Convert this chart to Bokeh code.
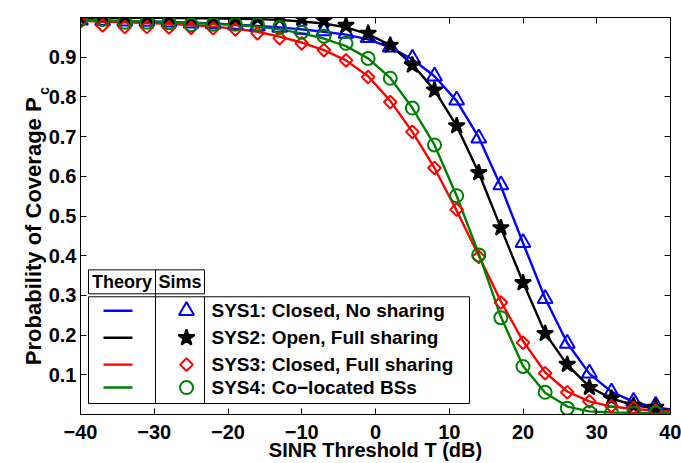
import math
from bokeh.plotting import figure
from bokeh.models import Range1d, FixedTicker, LinearAxis
from bokeh.core.properties import value
from bokeh.embed import file_html
from bokeh.resources import INLINE

FONT = "Liberation Sans"

# ---------------- data ----------------
snr_sim = [-40, -37, -34, -31, -28, -25, -22, -19, -16, -13, -10, -7, -4, -1,
           2, 5, 8, 11, 14, 17, 20, 23, 26, 29, 32, 35, 38]
snr_theory = [-40, -37, -34, -31, -28, -25, -22, -19, -16, -13, -10, -7, -4, -1,
              2, 5, 8, 11, 14, 17, 20, 23, 26, 29, 32, 35, 38, 40]

sys1_theory = [0.993, 0.992, 0.991, 0.990, 0.989, 0.987, 0.985, 0.982, 0.979, 0.975,
               0.970, 0.964, 0.957, 0.945, 0.925, 0.895, 0.852, 0.790, 0.698, 0.575,
               0.432, 0.293, 0.180, 0.103, 0.057, 0.032, 0.018, 0.013]
sys2_theory = [0.999, 0.999, 0.999, 0.999, 0.999, 0.998, 0.998, 0.997, 0.996, 0.994,
               0.990, 0.985, 0.975, 0.958, 0.930, 0.882, 0.817, 0.727, 0.609, 0.470,
               0.333, 0.205, 0.125, 0.070, 0.040, 0.024, 0.015, 0.011]
sys3_theory = [0.992, 0.990, 0.988, 0.986, 0.984, 0.981, 0.977, 0.972, 0.964, 0.952,
               0.937, 0.918, 0.892, 0.852, 0.790, 0.712, 0.621, 0.514, 0.400, 0.285,
               0.185, 0.106, 0.058, 0.033, 0.020, 0.014, 0.010, 0.008]
sys4_theory = [0.993, 0.992, 0.991, 0.990, 0.988, 0.986, 0.984, 0.981, 0.977, 0.970,
               0.960, 0.947, 0.928, 0.897, 0.848, 0.772, 0.679, 0.551, 0.405, 0.246,
               0.122, 0.055, 0.020, 0.008, 0.005, 0.004, 0.004, 0.004]

sys1_sim = [0.993, 0.992, 0.991, 0.990, 0.988, 0.986, 0.984, 0.981, 0.978, 0.975,
            0.970, 0.966, 0.960, 0.949, 0.925, 0.897, 0.852, 0.792, 0.696, 0.578,
            0.433, 0.292, 0.179, 0.104, 0.056, 0.033, 0.023]
sys2_sim = [1.000, 1.000, 1.000, 1.000, 1.000, 0.999, 0.999, 0.999, 0.999, 0.999,
            0.998, 0.993, 0.980, 0.960, 0.930, 0.880, 0.817, 0.727, 0.609, 0.470,
            0.332, 0.204, 0.126, 0.068, 0.041, 0.023, 0.018]
sys3_sim = [0.990, 0.980, 0.976, 0.976, 0.975, 0.974, 0.973, 0.970, 0.960, 0.948,
            0.935, 0.918, 0.892, 0.850, 0.787, 0.712, 0.621, 0.516, 0.397, 0.282,
            0.181, 0.104, 0.056, 0.033, 0.021, 0.016, 0.010]
sys4_sim = [0.995, 0.995, 0.988, 0.988, 0.987, 0.982, 0.983, 0.983, 0.983, 0.975,
            0.963, 0.953, 0.935, 0.897, 0.847, 0.772, 0.679, 0.551, 0.402, 0.244,
            0.121, 0.056, 0.016, 0.005, 0.004, 0.004, 0.004]

x_ticks = [-40, -30, -20, -10, 0, 10, 20, 30, 40]
x_tick_labels = ["\u221240", "\u221230", "\u221220", "\u221210", "0", "10", "20", "30", "40"]
y_ticks = [0.1, 0.2, 0.3, 0.4, 0.5, 0.6, 0.7, 0.8, 0.9]
y_tick_labels = ["0.1", "0.2", "0.3", "0.4", "0.5", "0.6", "0.7", "0.8", "0.9"]

legend_labels = ["SYS1: Closed, No sharing", "SYS2: Open, Full sharing",
                 "SYS3: Closed, Full sharing", "SYS4: Co\u2212located BSs"]
legend_header = ["Theory", "Sims"]
x_label = "SINR Threshold T (dB)"
y_label = "Probability of Coverage P"
y_label_sub = "c"
y_label_sub_pos = 0.825

colors = ["#0000ff", "#000000", "#ff0000", "#008000"]
markers = ["triangle", "star", "square", "circle"]
marker_sizes = [15, 17, 9, 13]
marker_angles = [0, 0, math.pi / 4, 0]
marker_fill = [None, "#000000", None, None]
LW = 2.4

# ---------------- figure ----------------
p = figure(width=681, height=463, x_range=Range1d(-40, 40), y_range=Range1d(0, 1),
           output_backend="svg", toolbar_location=None,
           min_border_left=80, min_border_right=11, min_border_top=17, min_border_bottom=48)
p.grid.visible = False
p.outline_line_color = "black"
p.outline_line_width = 1
p.background_fill_color = "white"
p.border_fill_color = "white"


def style_axis(ax, ticks, labels, show_labels, standoff):
    ax.ticker = FixedTicker(ticks=ticks)
    ax.major_label_overrides = {t: l for t, l in zip(ticks, labels)}
    ax.major_tick_in = 6
    ax.major_tick_out = 0
    ax.minor_tick_in = 0
    ax.minor_tick_out = 0
    ax.axis_line_color = "black"
    ax.major_tick_line_color = "black"
    ax.major_label_text_font = FONT
    ax.major_label_text_font_style = "bold"
    if show_labels:
        ax.major_label_text_color = "black"
        ax.major_label_text_font_size = "20px"
        ax.major_label_standoff = standoff
    else:
        ax.major_label_text_color = None
        ax.major_label_text_font_size = "1px"
        ax.major_label_standoff = 0


xax = p.xaxis[0]
yax = p.yaxis[0]
style_axis(xax, x_ticks, x_tick_labels, True, 10)
style_axis(yax, y_ticks, y_tick_labels, True, 4)
xax.axis_label = x_label
xax.axis_label_text_font = FONT
xax.axis_label_text_font_style = "bold"
xax.axis_label_text_font_size = "20px"
xax.axis_label_text_color = "black"
xax.axis_label_standoff = -3
# trailing no-break spaces shift the visible title toward the bottom, as in the original
yax.axis_label = y_label + "\u00a0" * 5
yax.axis_label_text_font = FONT
yax.axis_label_text_font_style = "bold"
yax.axis_label_text_font_size = "22px"
yax.axis_label_text_color = "black"
yax.axis_label_standoff = 0

top_ax = LinearAxis()
right_ax = LinearAxis()
style_axis(top_ax, x_ticks, x_tick_labels, False, 0)
style_axis(right_ax, y_ticks, y_tick_labels, False, 0)
p.add_layout(top_ax, "above")
p.add_layout(right_ax, "right")

# subscript "c" of the y-axis title, carried by an extra (invisible) axis
sub_ax = LinearAxis(ticker=FixedTicker(ticks=[y_label_sub_pos]),
                    major_label_overrides={y_label_sub_pos: y_label_sub})
sub_ax.axis_line_color = None
sub_ax.major_tick_line_color = None
sub_ax.minor_tick_line_color = None
sub_ax.major_tick_in = 0
sub_ax.major_tick_out = 0
sub_ax.minor_tick_in = 0
sub_ax.minor_tick_out = 0
sub_ax.major_label_orientation = math.pi / 2
sub_ax.major_label_text_font = FONT
sub_ax.major_label_text_font_style = "bold"
sub_ax.major_label_text_font_size = "14px"
sub_ax.major_label_text_color = "black"
sub_ax.major_label_standoff = -27
p.add_layout(sub_ax, "left")

theories = [sys1_theory, sys2_theory, sys3_theory, sys4_theory]
sims = [sys1_sim, sys2_sim, sys3_sim, sys4_sim]

for col, th in zip(colors, theories):
    p.line(snr_theory, th, line_color=col, line_width=LW)
for col, sm, mk, ms, ang, mf in zip(colors, sims, markers, marker_sizes, marker_angles, marker_fill):
    p.scatter(snr_sim, sm, marker=mk, size=ms, angle=ang, line_color=col,
              fill_color=mf, line_width=2)


# ---------------- legend (drawn) ----------------
def lx(px):
    return -40 + (px - 80) * 80.0 / 590.0


def ly(py):
    return (415 - py) / 398.0


rows = [311, 338, 365, 388]
p.quad(left=[lx(88), lx(88)], right=[lx(204), lx(469)], top=[ly(270), ly(297)],
       bottom=[ly(294), ly(404)], fill_color="white", line_color="black", line_width=1)
p.segment(x0=[lx(155), lx(204)], y0=[ly(270), ly(297)], x1=[lx(155), lx(204)],
          y1=[ly(404), ly(404)], line_color="black", line_width=1)
for i, r in enumerate(rows):
    p.line([lx(103), lx(132)], [ly(r), ly(r)], line_color=colors[i], line_width=LW)
    p.scatter([lx(186)], [ly(r)], marker=markers[i], size=marker_sizes[i],
              angle=marker_angles[i], line_color=colors[i], fill_color=marker_fill[i],
              line_width=2)
p.text(x=[lx(211)] * 4, y=[ly(r) for r in rows], text=legend_labels,
       text_font=value(FONT), text_font_style="bold", text_font_size="19px",
       text_baseline="middle", text_align="left", text_color="black")
p.text(x=[lx(121.5), lx(179.5)], y=[ly(282), ly(282)], text=legend_header,
       text_font=value(FONT), text_font_style="bold", text_font_size="18px",
       text_baseline="middle", text_align="center", text_color="black")

open("out.html", "w").write(file_html(p, INLINE))
